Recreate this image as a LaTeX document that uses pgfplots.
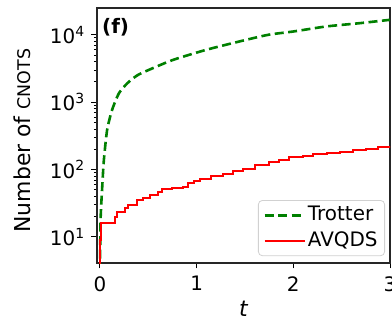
\documentclass[border=0pt]{standalone}
\usepackage{pgfplots}
\pgfplotsset{compat=1.18}
\usepackage{fontspec}
\setmainfont{DejaVu Sans}
\usetikzlibrary{calc}
\definecolor{mplgreen}{rgb}{0,0.5,0}
\definecolor{mplred}{rgb}{1,0,0}
\begin{document}
\fontsize{20}{24}\selectfont
\begin{tikzpicture}
\begin{axis}[
  name=ax,
  at={(0,0)}, anchor=south west,
  scale only axis,
  width=293bp, height=255bp,
  xmode=normal, ymode=log,
  xmin=-0.03, xmax=3.0,
  ymin=4.1, ymax=2.5e4,
  xtick={0,1,2,3},
  ytick={10,100,1000,10000},
  yticklabels={10\textsuperscript{1},10\textsuperscript{2},10\textsuperscript{3},10\textsuperscript{4}},
  /pgf/number format/assume math mode=true,
  tick align=outside,
  xtick pos=left, ytick pos=left,
  major tick length=5.5bp, minor tick length=3bp,
  every tick/.style={black, line width=0.9bp},
  axis line style={line width=1.2bp, black!85},
  tick label style={font=\fontsize{20}{24}\selectfont},
  xticklabel style={yshift=-1bp},
  label style={font=\fontsize{22}{26}\selectfont},
  xlabel={\itshape t},
  ylabel={Number of {\fontsize{17.5}{20}\selectfont CNOTS}},
  ylabel style={at={(axis description cs:-0.256,0.48)}, anchor=center},
  xlabel style={at={(axis description cs:0.5,-0.18)}, anchor=center},
  legend style={at={(axis description cs:0.983,0.027)}, anchor=south east,
    draw=black!18, rounded corners=4bp, line width=0.8bp,
    font=\fontsize{20}{24}\selectfont, inner xsep=5bp, inner ysep=4bp,
    row sep=4bp, /tikz/every even column/.append style={column sep=6bp}},
  legend cell align=left,
  legend image code/.code={\draw[#1] (0bp,0bp) -- (40bp,0bp);},
]
\addplot[mplgreen, line width=2.6bp, dash pattern=on 9bp off 4.5bp, smooth, tension=0.4] coordinates {
(0.001,3) (0.007,18) (0.024,55) (0.041,138) (0.075,390) (0.127,775)
(0.196,1350) (0.282,1900) (0.386,2500) (0.507,3020) (0.758,4250)
(1.10,5990) (1.44,7950) (1.74,10000) (2.0,11200) (2.34,13300)
(2.69,14900) (3.0,16700)
};
\addlegendentry{Trotter}
\addplot[mplred, line width=2bp, const plot] coordinates {
(0,3) (0.002,6) (0.005,9) (0.012,16) (0.16,20) (0.18,23.5) (0.26,27)
(0.29,30) (0.38,35) (0.45,38) (0.52,42) (0.6,46) (0.64,52) (0.75,54)
(0.86,56) (0.91,64) (0.97,68) (1.03,73) (1.15,80) (1.27,87) (1.38,95)
(1.48,103) (1.6,115) (1.75,130) (1.85,140) (1.96,151) (2.1,160) (2.2,168)
(2.35,177) (2.48,185) (2.62,195) (2.75,205) (2.88,213) (3.0,220)
};
\addlegendentry{AVQDS}
\node[anchor=north west, font=\bfseries\fontsize{20}{24}\selectfont, inner sep=0pt]
  at (axis description cs:0.017,0.96) {(f)};
\end{axis}
\pgfresetboundingbox
\path ($(ax.south west)+(-97bp,-61bp)$) rectangle ($(ax.north east)+(2bp,8bp)$);
\end{tikzpicture}
\end{document}
